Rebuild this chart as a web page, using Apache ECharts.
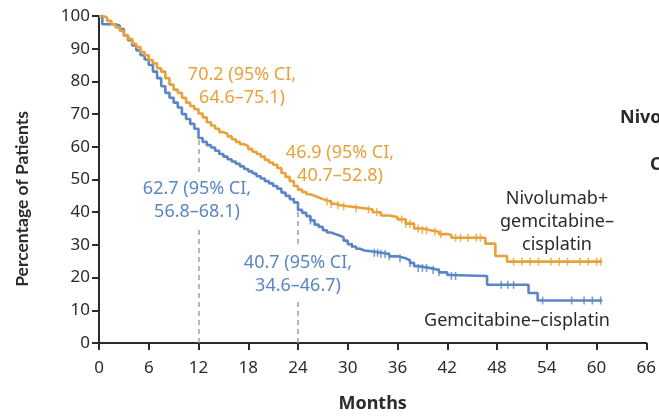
<!DOCTYPE html>
<html><head><meta charset="utf-8">
<script src="https://cdn.jsdelivr.net/npm/echarts@6/dist/echarts.min.js"></script>
<style>html,body{margin:0;padding:0;background:#fff}#c{width:659px;height:418px}</style>
</head><body><div id="c"></div>
<script>
// Kaplan-Meier estimates
const nivoT = [0,0.5,1,1.5,2,2.5,3,3.5,4,4.5,5,5.5,6,6.5,7,7.5,8,8.5,9,9.5,10,10.5,11,11.5,12,12.5,13,13.5,14,14.5,15,15.5,16,16.5,17,17.5,18,18.5,19,19.5,20,20.5,21,21.5,22,22.5,23,23.5,24,24.5,25,25.5,26,26.5,27,27.5,28,28.5,29,29.5,30,31,32,33,34,35,36,37,38,39,40,41,42,42.5,46.6,47.8,49.2,60.7];
const nivoS = [100,99.5,98.5,97.5,96.5,95.5,94,93,91.5,90.5,89,88,86.5,85.5,84,83,81,79,77.5,76.5,75,73.5,72.5,71.5,70.2,69,67.5,66.5,65.5,64.5,64,63.2,62.3,61.5,60.8,60.2,59.3,58.5,57.8,57,56,55.2,54.5,53.5,52,50.8,49.5,48,46.9,46.2,45.5,45,44.5,44,43.6,43.3,42.6,42.2,42,41.8,41.5,41.2,40.8,40,39,38.5,37.8,36.5,35,34.5,34,33.3,33,32.2,30.4,26.6,24.9,24.9];
const gemT = [0,0.4,2,2.5,3,3.5,4,4.5,5,5.5,6,6.5,7,7.5,8,8.5,9,9.5,10,10.5,11,11.5,12,12.5,13,13.5,14,14.5,15,15.5,16,16.5,17,17.5,18,18.5,19,19.5,20,20.5,21,21.5,22,22.5,23,23.5,24,24.5,25,25.5,26,26.5,27,27.5,28,28.5,29,29.5,30,30.5,31,31.5,32,33,34,35,36,37,37.5,38,38.5,40,41,42,42.3,46.8,51.8,52.9,60.7];
const gemS = [100,97.5,97,96,94,92.6,91,89.5,88,86.7,85,83,81,78.5,76.5,75,73.5,72,70,68.5,67,65.5,62.7,61.5,60.5,59.8,58.8,57.8,57,56.2,55.5,54.8,54,53.2,52.5,51.8,51,50.3,49.5,48.8,48,47.2,46,45,44,43,40.7,39.8,38.8,37.5,36.2,35.5,34.5,33.8,33.3,32.9,32.3,31.3,30.2,29.5,28.8,28.3,28,27.6,27.2,26.5,25.9,25.3,24.5,23.5,22.9,22.3,21.6,20.8,20.5,17.8,15.3,13,13];
const nivoCensor = [27.5,28,28.8,29.5,31,32.5,33.5,36.5,37,37.5,38.5,39,39.5,40.5,41.2,43,43.6,44.5,45.5,46,50,51,52,53,54.5,55.5,56.5,58,59,60,60.5];
const gemCensor = [25.5,30.5,33.2,33.6,34,34.5,35,36.3,37.5,38.5,39,39.5,40.3,41,42.5,43,48.5,49.3,50,53.5,57,58.5,59.5,60.5];
const landmarkMonths = [12,24];
const landmarkGem = [62.7,40.7];

const ORANGE = '#E9A13A', BLUE = '#5B86C6', INK = '#2b2b2b';
const FONT = 'Noto Sans';

function pairs(t,s){return t.map((v,i)=>[v,s[i]]);}
function surv(t,T,S){let v=S[0];for(let i=0;i<T.length;i++){if(T[i]<=t)v=S[i];}return v;}

const chart = echarts.init(document.getElementById('c'), null, {renderer:'canvas'});
const txt = (s, x, y, color, opts, extra) => Object.assign({
  type:'text', z:100, x:x, y:y,
  style:Object.assign({text:s, fill:color, font:'18px "'+FONT+'"', textAlign:'center', textVerticalAlign:'middle'}, opts||{})
}, extra||{});
const whiteBox = {backgroundColor:'#fff', padding:[6,2,6,2]};

chart.setOption({
  animation:false,
  grid:{left:99, right:12, top:16, bottom:72},
  xAxis:{type:'value', min:0, max:66, interval:6,
    name:'Months', nameLocation:'middle', nameGap:52,
    nameTextStyle:{fontFamily:FONT, fontWeight:'bold', fontSize:18, color:INK},
    axisLine:{lineStyle:{color:INK, width:2}},
    axisTick:{length:7, lineStyle:{color:INK, width:2}},
    axisLabel:{fontFamily:FONT, fontSize:17, color:INK, margin:17},
    splitLine:{show:false}},
  yAxis:{type:'value', min:0, max:100, interval:10,
    axisLine:{show:true, lineStyle:{color:INK, width:2}},
    axisTick:{show:true, length:7, lineStyle:{color:INK, width:2}},
    axisLabel:{fontFamily:FONT, fontSize:17, color:INK, margin:9},
    splitLine:{show:false}},
  series:[
    {type:'line', name:'landmarks', data:[], silent:true, z:1,
      markLine:{symbol:'none', silent:true, label:{show:false},
        lineStyle:{type:[5,4], color:'#a0a0a0', width:1.5},
        data:landmarkMonths.map((m,i)=>[{coord:[m,0]},{coord:[m,landmarkGem[i]]}])}},
    {type:'line', name:'Gemcitabine–cisplatin', step:'end', showSymbol:false, z:3,
      data:pairs(gemT,gemS), lineStyle:{color:BLUE, width:2.6}, itemStyle:{color:BLUE}},
    {type:'line', name:'Nivolumab+gemcitabine–cisplatin', step:'end', showSymbol:false, z:4,
      data:pairs(nivoT,nivoS), lineStyle:{color:ORANGE, width:2.6}, itemStyle:{color:ORANGE}},
    {type:'scatter', z:5, symbol:'rect', symbolSize:[1.6,8], itemStyle:{color:BLUE},
      data:gemCensor.map(t=>[t,surv(t,gemT,gemS)])},
    {type:'scatter', z:6, symbol:'rect', symbolSize:[1.6,8], itemStyle:{color:ORANGE},
      data:nivoCensor.map(t=>[t,surv(t,nivoT,nivoS)])}
  ],
  graphic:[
    txt('Percentage of Patients',22,199,INK,{font:'bold 17.5px Lato'},{rotation:Math.PI/2}),
    txt('70.2 (95% CI,',242,75,ORANGE),
    txt('64.6–75.1)',242,98,ORANGE),
    txt('46.9 (95% CI,',340,153,ORANGE),
    txt('40.7–52.8)',340,176,ORANGE),
    txt('62.7 (95% CI,',197,189,BLUE,whiteBox),
    txt('56.8–68.1)',197,212,BLUE,whiteBox),
    txt('40.7 (95% CI,',298,263,BLUE,whiteBox),
    txt('34.6–46.7)',298,286,BLUE,whiteBox),
    txt('Nivolumab+',557,199,INK),
    txt('gemcitabine–',557,222,INK),
    txt('cisplatin',557,245,INK),
    txt('Gemcitabine–cisplatin',517,321,INK),
    txt('Nivo',620,118,INK,{textAlign:'left', font:'bold 18px "'+FONT+'"'}),
    txt('C',650,165,INK,{textAlign:'left', font:'bold 18px "'+FONT+'"'})
  ]
});
</script></body></html>
